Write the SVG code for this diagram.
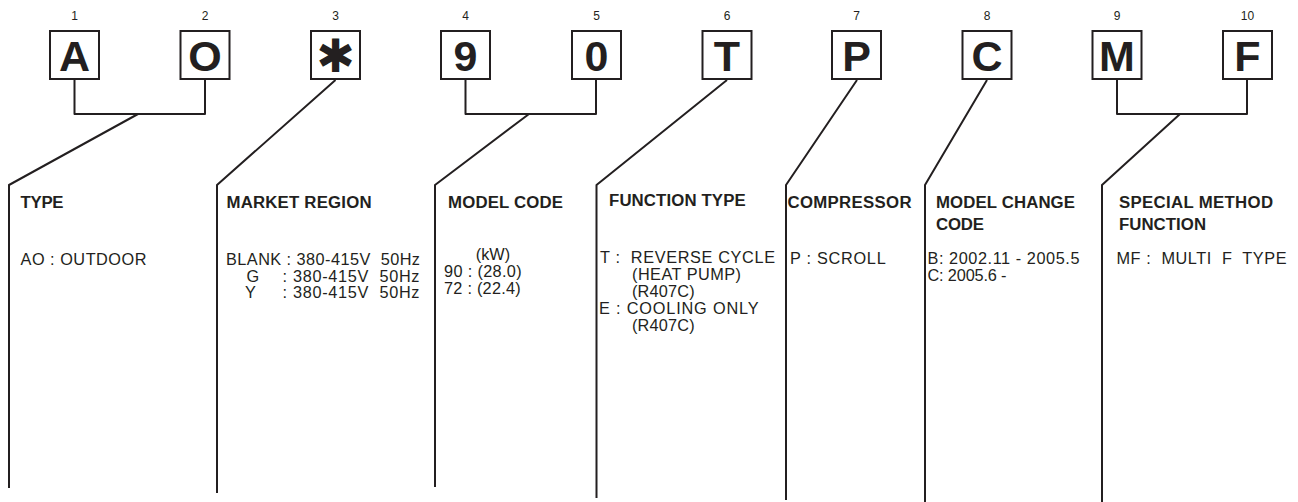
<svg xmlns="http://www.w3.org/2000/svg" width="1298" height="502" viewBox="0 0 1298 502">
<style>
text{font-family:"Liberation Sans",Arial,sans-serif;fill:#231f20;white-space:pre}
.num{font-size:12px;text-anchor:middle}
.big{font-size:43px;font-weight:bold;text-anchor:middle}
.ast{font-family:"DejaVu Sans",sans-serif;font-size:46px;text-anchor:middle}
.h{font-size:16.8px;font-weight:bold}
.b{font-size:16.3px}
.box{fill:#fff;stroke:#231f20;stroke-width:2}
.ln{fill:none;stroke:#231f20;stroke-width:2;stroke-linejoin:round}
</style>
<rect width="1298" height="502" fill="#fff"/>
<g id="connectors">
<path class="ln" d="M74.5,80 V114 H205 V80 M138,114 L9,185 V488"/>
<path class="ln" d="M335.5,80 L217,185 V493"/>
<path class="ln" d="M465.5,80 V114 H596 V80 M529,114 L435,185 V487"/>
<path class="ln" d="M727,80 L596.5,185 V498"/>
<path class="ln" d="M857,80 L786,185 V500"/>
<path class="ln" d="M987,80 L925,185 V502"/>
<path class="ln" d="M1117,80 V114 H1247 V80 M1180,114 L1102,185 V502"/>
</g>
<g id="char1"><text class="num" x="74.5" y="20">1</text><rect class="box" x="50" y="31" width="49" height="48"/><text class="big" x="74.5" y="70.5">A</text></g>
<g id="char2"><text class="num" x="205" y="20">2</text><rect class="box" x="180.5" y="31" width="49" height="48"/><text class="big" x="205" y="70.5">O</text></g>
<g id="char3"><text class="num" x="335.5" y="20">3</text><rect class="box" x="311" y="31" width="49" height="48"/><text class="ast" x="335.5" y="72">✱</text></g>
<g id="char4"><text class="num" x="465.5" y="20">4</text><rect class="box" x="441" y="31" width="49" height="48"/><text class="big" x="465.5" y="70.5">9</text></g>
<g id="char5"><text class="num" x="596.5" y="20">5</text><rect class="box" x="572" y="31" width="49" height="48"/><text class="big" x="596.5" y="70.5">0</text></g>
<g id="char6"><text class="num" x="727" y="20">6</text><rect class="box" x="702.5" y="31" width="49" height="48"/><text class="big" x="727" y="70.5">T</text></g>
<g id="char7"><text class="num" x="856.5" y="20">7</text><rect class="box" x="832" y="31" width="49" height="48"/><text class="big" x="856.5" y="70.5">P</text></g>
<g id="char8"><text class="num" x="987" y="20">8</text><rect class="box" x="962.5" y="31" width="49" height="48"/><text class="big" x="987" y="70.5">C</text></g>
<g id="char9"><text class="num" x="1117" y="20">9</text><rect class="box" x="1092.5" y="31" width="49" height="48"/><text class="big" x="1117" y="70.5">M</text></g>
<g id="char10"><text class="num" x="1247.5" y="20">10</text><rect class="box" x="1223" y="31" width="49" height="48"/><text class="big" x="1247.5" y="70.5">F</text></g>
<g id="type">
<text class="h" x="20.5" y="208" textLength="43">TYPE</text>
<text class="b" x="20.5" y="265" textLength="126">AO : OUTDOOR</text>
</g>
<g id="market-region">
<text class="h" x="226.5" y="208" textLength="145">MARKET REGION</text>
<text class="b" x="226" y="265" textLength="194">BLANK : 380-415V  50Hz</text>
<text class="b" x="246.5" y="281.5">G</text>
<text class="b" x="282.5" y="281.5" textLength="137">: 380-415V  50Hz</text>
<text class="b" x="245" y="298">Y</text>
<text class="b" x="282.5" y="298" textLength="137">: 380-415V  50Hz</text>
</g>
<g id="model-code">
<text class="h" x="448" y="208" textLength="115">MODEL CODE</text>
<text class="b" x="493" y="260" style="text-anchor:middle">(kW)</text>
<text class="b" x="444" y="277" textLength="77.7">90 : (28.0)</text>
<text class="b" x="444" y="293.5" textLength="76.7">72 : (22.4)</text>
</g>
<g id="function-type">
<text class="h" x="609" y="206" textLength="136.7">FUNCTION TYPE</text>
<text class="b" x="600" y="263" textLength="175">T :  REVERSE CYCLE</text>
<text class="b" x="632" y="280" textLength="109">(HEAT PUMP)</text>
<text class="b" x="632" y="297" textLength="62.7">(R407C)</text>
<text class="b" x="599" y="314" textLength="159.5">E : COOLING ONLY</text>
<text class="b" x="632" y="331" textLength="62.7">(R407C)</text>
</g>
<g id="compressor">
<text class="h" x="787.5" y="208" textLength="124">COMPRESSOR</text>
<text class="b" x="790" y="264" textLength="95.7">P : SCROLL</text>
</g>
<g id="model-change-code">
<text class="h" x="936" y="208" textLength="139">MODEL CHANGE</text>
<text class="h" x="936" y="229.5" textLength="48">CODE</text>
<text class="b" x="927.5" y="263.5" textLength="152">B: 2002.11 - 2005.5</text>
<text class="b" x="927.5" y="280.5" textLength="79">C: 2005.6 -</text>
</g>
<g id="special-method-function">
<text class="h" x="1119" y="208" textLength="154">SPECIAL METHOD</text>
<text class="h" x="1119" y="229.5" textLength="87">FUNCTION</text>
<text class="b" x="1116.5" y="263.5" textLength="170">MF :  MULTI  F  TYPE</text>
</g>
</svg>
